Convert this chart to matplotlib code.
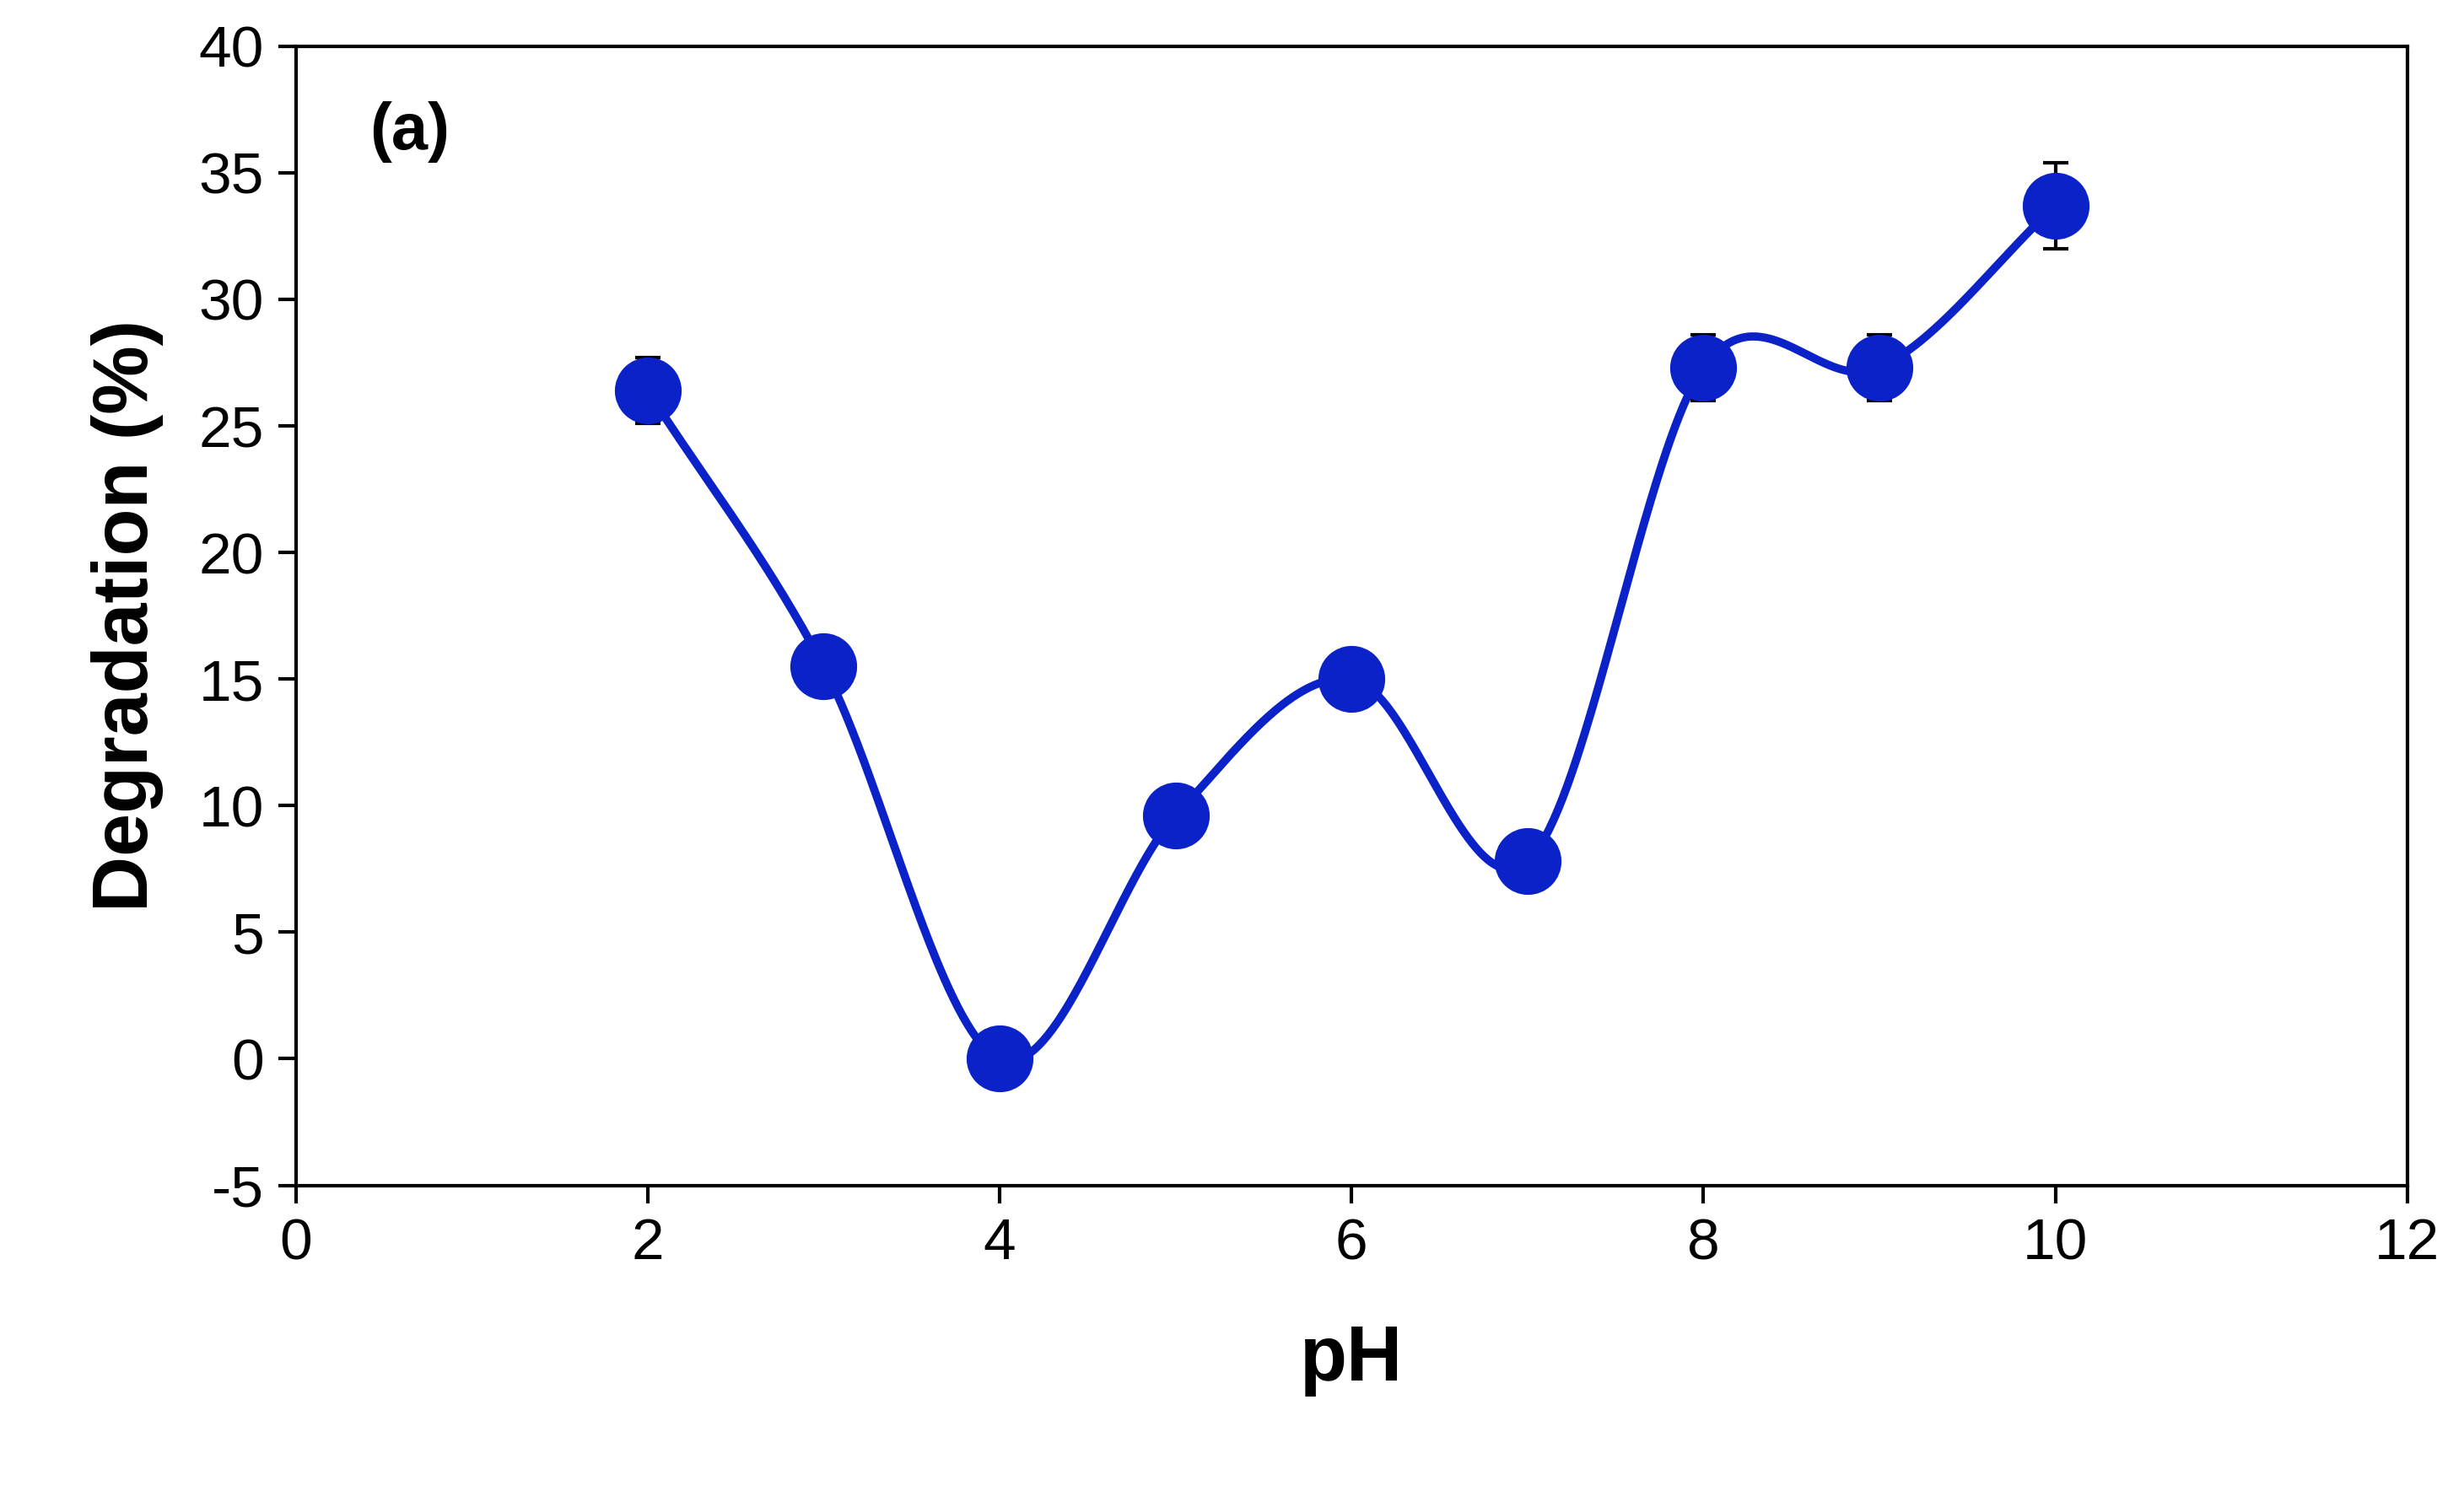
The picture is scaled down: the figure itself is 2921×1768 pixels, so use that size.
import matplotlib
matplotlib.use("Agg")
import matplotlib.pyplot as plt
import numpy as np

ph = [2, 3, 4, 5, 6, 7, 8, 9, 10]
degradation = [26.4, 15.5, 0.0, 9.6, 15.0, 7.8, 27.3, 27.3, 33.7]
err = [1.3, 0.0, 0.0, 0.0, 0.0, 0.0, 1.3, 1.3, 1.7]


def catmull_rom(x, y, per_seg=80):
    # smooth line through the points (Catmull-Rom / cardinal spline)
    x = np.asarray(x, float)
    y = np.asarray(y, float)
    n = len(x)
    m = np.zeros(n)
    m[1:-1] = (y[2:] - y[:-2]) / (x[2:] - x[:-2])
    m[0] = (y[1] - y[0]) / (x[1] - x[0])
    m[-1] = (y[-1] - y[-2]) / (x[-1] - x[-2])
    xs, ys = [], []
    for i in range(n - 1):
        h = x[i + 1] - x[i]
        t = np.linspace(0, 1, per_seg, endpoint=False)
        h00 = 2 * t**3 - 3 * t**2 + 1
        h10 = t**3 - 2 * t**2 + t
        h01 = -2 * t**3 + 3 * t**2
        h11 = t**3 - t**2
        xs.append(x[i] + t * h)
        ys.append(h00 * y[i] + h10 * h * m[i] + h01 * y[i + 1] + h11 * h * m[i + 1])
    xs.append([x[-1]])
    ys.append([y[-1]])
    return np.concatenate(xs), np.concatenate(ys)


plt.rcParams["font.family"] = ["Liberation Sans", "DejaVu Sans"]
plt.rcParams["axes.unicode_minus"] = False

fig = plt.figure(figsize=(29.21, 17.68), dpi=100)
ax = fig.add_axes([0.120, 0.205, 0.857, 0.764])

xs, ys = catmull_rom(ph, degradation)
ax.plot(xs, ys, color="#0a22c8", lw=7, zorder=2)
ax.errorbar(ph, degradation, yerr=err, fmt="none", ecolor="black",
            elinewidth=3, capsize=11, capthick=3, zorder=3)
ax.plot(ph, degradation, "o", color="#0a22c8", markersize=56, zorder=4)

ax.set_xlim(0, 12)
ax.set_ylim(-5, 40)
ax.set_xticks(range(0, 13, 2))
ax.set_yticks(range(-5, 41, 5))
ax.tick_params(direction="out", length=15, width=3, labelsize=50, pad=12)
for s in ax.spines.values():
    s.set_linewidth(3)

ax.set_xlabel("pH", fontsize=66, fontweight="bold", labelpad=45)
ax.set_ylabel("Degradation (%)", fontsize=66, fontweight="bold", labelpad=30)
ax.text(0.035, 0.925, "(a)", transform=ax.transAxes, fontsize=56,
        fontweight="bold", va="center")

fig.savefig("out.png", dpi=100)
